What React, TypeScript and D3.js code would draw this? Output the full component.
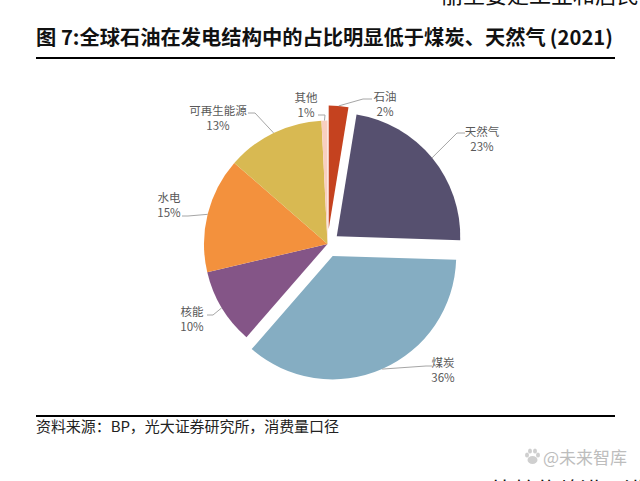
import React from "react";
import * as d3 from "d3";

const categories = ["石油", "天然气", "煤炭", "核能", "水电", "可再生能源", "其他"];
const shares = [2.56, 22.94, 35.89, 9.94, 15.06, 12.83, 0.78];
const shareLabels = ["2%", "23%", "36%", "10%", "15%", "13%", "1%"];

const colors = ["#c5421f", "#56506f", "#85adc2", "#845587", "#f3913d", "#d8b952", "#f8cfc0"];
const explode = [15, 12, 13, 0, 0, 0, 0];

// label anchor (centre x, first line baseline) and the leader line's elbow and end
const labelPos: [number, number][] = [
  [385, 101], [482, 136], [443, 367], [192, 316], [169, 202], [218, 115], [306, 102],
];
const leaderElbows: [number, number][] = [
  [363, 99], [457, 133], [426, 366], [213, 315], [188, 216], [255, 113], [325, 115],
];
const leaderEnds: [number, number][] = [
  [372, 99], [465, 133], [432, 366], [207, 315], [182, 216], [248, 113], [318, 115],
];

const cx = 327.5;
const cy = 244;
const radius = 123.5;
const cjk = "'Noto Sans CJK SC', sans-serif";

export default function App() {
  const pie = d3.pie<number>().sort(null).value((d) => d);
  const arcs = pie(shares);
  const arc = d3.arc<d3.PieArcDatum<number>>().innerRadius(0).outerRadius(radius);

  const offset = (d: d3.PieArcDatum<number>, i: number) => {
    const mid = (d.startAngle + d.endAngle) / 2;
    return [Math.sin(mid) * explode[i], -Math.cos(mid) * explode[i]];
  };

  return (
    <svg
      width={640}
      height={481}
      style={{ position: "absolute", left: 0, top: 0, background: "#fff" }}
      fontFamily={cjk}
    >
      {/* page text cut off by the crop */}
      <text x={441} y={3} fontSize={22} fill="#111">丽主要是工业和居民</text>
      <text x={492} y={498} fontSize={22} fill="#111">比较依赖进口进</text>

      <text x={36} y={45} fontSize={20} fontWeight={700} fill="#111" textLength={577} lengthAdjust="spacingAndGlyphs">
        {"图 7:全球石油在发电结构中的占比明显低于煤炭、天然气\u2009(2021)"}
      </text>
      <line x1={36} x2={615} y1={58} y2={58} stroke="#000" strokeWidth={2} />

      {arcs.map((d, i) => {
        const [dx, dy] = offset(d, i);
        return (
          <path
            key={categories[i]}
            d={arc(d) ?? ""}
            transform={`translate(${cx + dx},${cy + dy})`}
            fill={colors[i]}
          />
        );
      })}

      {arcs.map((d, i) => {
        const [dx, dy] = offset(d, i);
        const mid = (d.startAngle + d.endAngle) / 2;
        const sx = cx + dx + Math.sin(mid) * radius;
        const sy = cy + dy - Math.cos(mid) * radius;
        const pts = [[sx, sy], leaderElbows[i], leaderEnds[i]] as [number, number][];
        return (
          <path
            key={categories[i]}
            d={d3.line()(pts) ?? ""}
            fill="none"
            stroke="#a6a6a6"
            strokeWidth={1}
          />
        );
      })}

      {categories.map((c, i) => (
        <text key={c} textAnchor="middle" fontSize={11.5} fill="#595959">
          <tspan x={labelPos[i][0]} y={labelPos[i][1]}>{c}</tspan>
          <tspan x={labelPos[i][0]} y={labelPos[i][1] + 15}>{shareLabels[i]}</tspan>
        </text>
      ))}

      <line x1={36} x2={615} y1={416} y2={416} stroke="#000" strokeWidth={2} />
      <text x={36} y={432} fontSize={15} fill="#222" textLength={303}>
        {"资料来源\uFF1ABP\uFF0C光大证券研究所\uFF0C消费量口径"}
      </text>

      {/* watermark */}
      <g fill="#cfcfcf">
        <ellipse cx={527} cy={455} rx={2} ry={2.6} />
        <ellipse cx={530} cy={451} rx={2} ry={2.6} />
        <ellipse cx={535} cy={451} rx={2} ry={2.6} />
        <ellipse cx={538} cy={455} rx={2} ry={2.6} />
        <ellipse cx={532.5} cy={460} rx={5} ry={4} />
      </g>
      <text x={543} y={464} fontSize={17} fill="#bdbdbd" textLength={84} lengthAdjust="spacingAndGlyphs">@未来智库</text>
    </svg>
  );
}
